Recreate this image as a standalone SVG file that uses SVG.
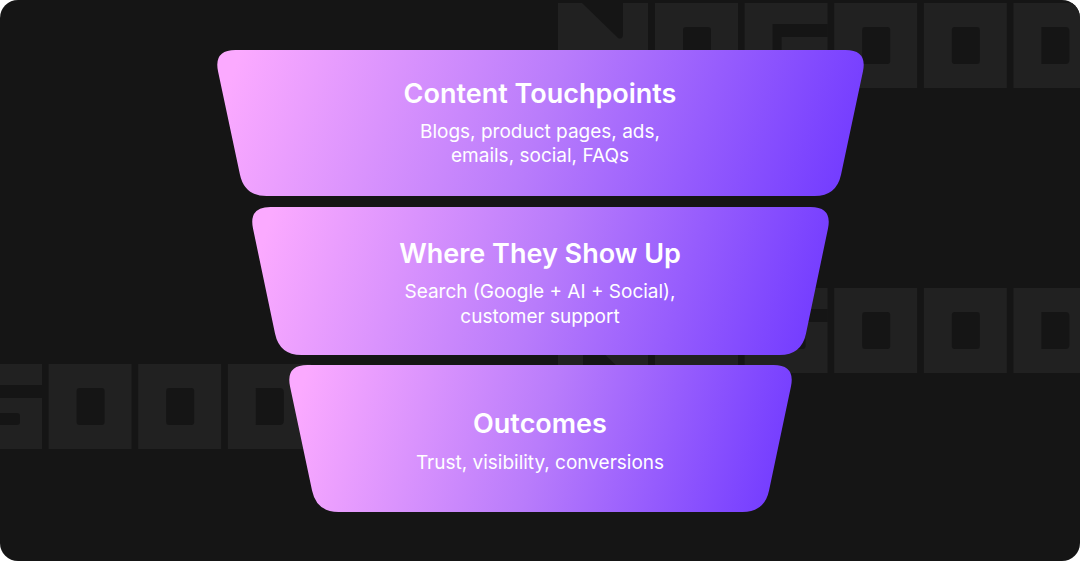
<svg xmlns="http://www.w3.org/2000/svg" width="1080" height="561" viewBox="0 0 1080 561">
<defs>
<style>
.tile{fill:#212121}
.hole{fill:#151515}
.title{font-family:Inter,"Liberation Sans",sans-serif;font-weight:600;font-size:27px;fill:#ffffff;text-anchor:middle}
.sub{font-family:Inter,"Liberation Sans",sans-serif;font-weight:400;font-size:19px;fill:#ffffff;text-anchor:middle}
</style>
<linearGradient id="grad" x1="0" y1="0.46" x2="1" y2="0.54">
<stop offset="0" stop-color="#fbaaff"/>
<stop offset="0.5" stop-color="#b97cfb"/>
<stop offset="1" stop-color="#733cff"/>
</linearGradient>
<clipPath id="card"><rect x="0" y="0" width="1080" height="561" rx="18"/></clipPath>
<g id="O"><rect class="tile" width="83" height="85"/><rect class="hole" x="28" y="24" width="28" height="37" rx="3"/></g>
<g id="D"><rect class="tile" width="83" height="85"/><path class="hole" d="M28,24 H52 Q56,24 56,28 V57 Q56,61 52,61 H28 Z"/></g>
<g id="G"><rect class="tile" width="83" height="85"/><path class="hole" d="M28,21 H83 V34 H37 V49 H58 Q61,49 61,52 V58 Q61,61 58,61 H28 Z"/></g>
<g id="N"><rect class="tile" width="90" height="85"/><path class="hole" d="M24,0 H65 V31 Q65,37 60,35 Z"/><path class="hole" d="M66,85 H25 V54 Q25,48 30,50 Z"/></g>
</defs>
<rect x="0" y="0" width="1080" height="561" fill="#ffffff"/>
<rect x="0" y="0" width="1080" height="561" rx="18" fill="#151515"/>
<g id="background-letters" clip-path="url(#card)">
<use href="#N" x="558" y="3"/><use href="#O" x="655" y="3"/><use href="#G" x="744.6" y="3"/><use href="#O" x="834.2" y="3"/><use href="#O" x="923.8" y="3"/><use href="#D" x="1013.4" y="3"/>
<use href="#N" x="558" y="288"/><use href="#O" x="655" y="288"/><use href="#G" x="744.6" y="288"/><use href="#O" x="834.2" y="288"/><use href="#O" x="923.8" y="288"/><use href="#D" x="1013.4" y="288"/>
<use href="#G" x="-41" y="364"/><use href="#O" x="48.6" y="364"/><use href="#O" x="138.2" y="364"/><use href="#D" x="227.8" y="364"/>
</g>
<g id="connectors"/>
<g id="node-content-touchpoints">
<path fill="url(#grad)" d="M235.5,50 L845.5,50 Q867.5,50 862.93,71.52 L841.07,174.48 Q836.5,196 814.5,196 L266.5,196 Q244.5,196 239.93,174.48 L218.07,71.52 Q213.5,50 235.5,50 Z"/>
<text class="title" x="540" y="103">Content Touchpoints</text>
<text class="sub" x="540" y="137.5">Blogs, product pages, ads,</text>
<text class="sub" x="540" y="162">emails, social, FAQs</text>
</g>
<g id="node-where-they-show-up">
<path fill="url(#grad)" d="M270.5,207 L810.5,207 Q832.5,207 827.99,228.53 L806.01,333.47 Q801.5,355 779.5,355 L301.5,355 Q279.5,355 275.01,333.47 L253.01,228.53 Q248.5,207 270.5,207 Z"/>
<text class="title" x="540" y="263">Where They Show Up</text>
<text class="sub" x="540" y="298">Search (Google + AI + Social),</text>
<text class="sub" x="540" y="322.5">customer support</text>
</g>
<g id="node-outcomes">
<path fill="url(#grad)" d="M307.5,365 L773.5,365 Q795.5,365 790.96,386.53 L769.04,490.47 Q764.5,512 742.5,512 L338.5,512 Q316.5,512 312.04,490.47 L290.04,386.53 Q285.5,365 307.5,365 Z"/>
<text class="title" x="540" y="432.5">Outcomes</text>
<text class="sub" x="540" y="469">Trust, visibility, conversions</text>
</g>
</svg>
